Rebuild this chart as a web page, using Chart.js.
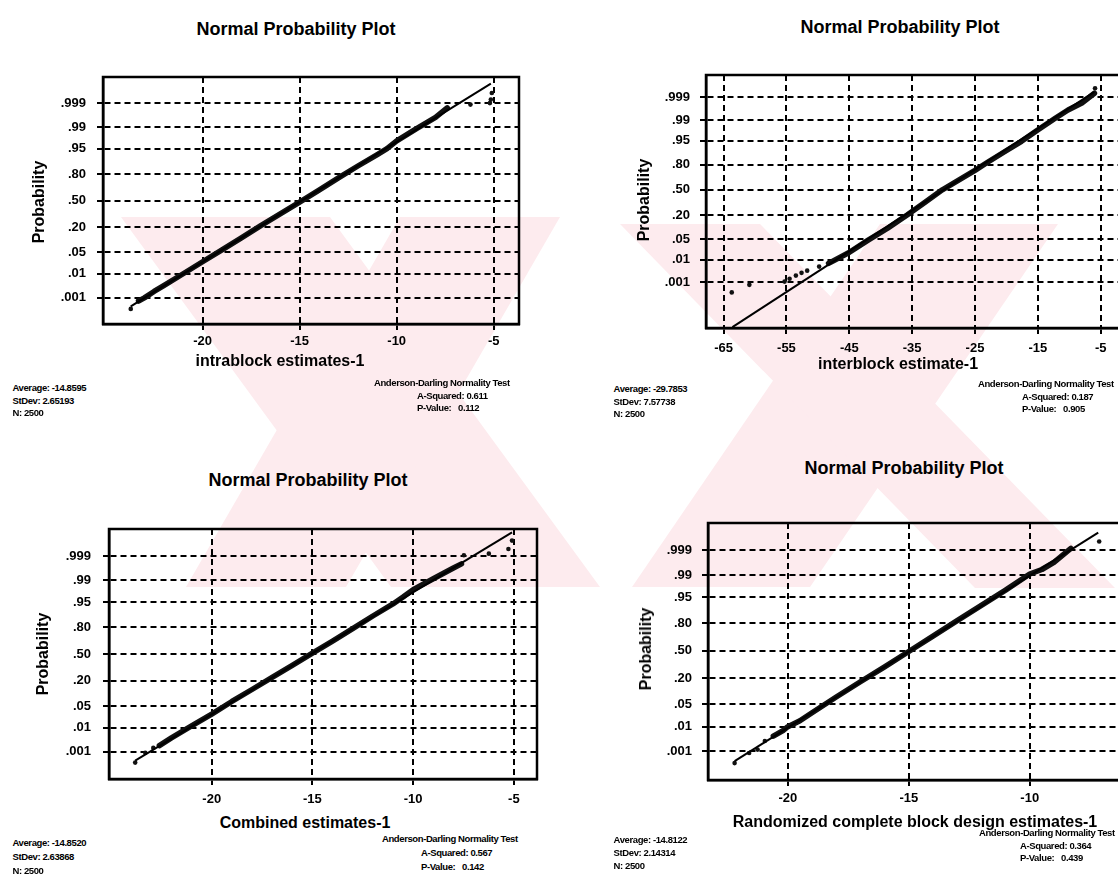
<!DOCTYPE html>
<html><head><meta charset="utf-8">
<script src="https://cdn.jsdelivr.net/npm/chart.js@4.4.1/dist/chart.umd.min.js"></script>
<style>
html,body{margin:0;padding:0;background:#fff;width:1118px;height:879px;overflow:hidden;position:relative;font-family:"Liberation Sans",Arial,sans-serif;color:#000}
.t{position:absolute;white-space:pre;font-weight:bold;line-height:1}
.ttl{font-size:18px;transform:translate(-50%,-50%)}
.xl{font-size:16px;transform:translate(-50%,-50%)}
.yl{font-size:16px;transform:translate(-50%,-50%) rotate(-90deg)}
.st{font-size:9.5px;letter-spacing:-0.4px;transform:translateY(-50%)}
#wm{position:absolute;left:0;top:0}
canvas{position:absolute}
</style></head><body>
<svg id="wm" width="1118" height="879" xmlns="http://www.w3.org/2000/svg">
<g fill="#fdebee">
<polygon points="121,217 330,217 600,587 391,587"/>
<polygon points="400,217 560,217 346,587 186,587"/>
<polygon points="880,224 1058,224 810,587 632,587"/>
<polygon points="620,224 760,224 1115,588 975,588"/>
</g>
</svg>
<script>
// ---------- axis tick data ----------
const probTickValues = [0.001, 0.01, 0.05, 0.20, 0.50, 0.80, 0.95, 0.99, 0.999];
const probTickLabels = ['.001', '.01', '.05', '.20', '.50', '.80', '.95', '.99', '.999'];

// ---------- panel 1: intrablock estimates ----------
const intraTicksX = [-20, -15, -10, -5];
const intraBandX = [-23.3, -23.0, -22.5, -22.0, -21.0, -20.0, -19.0, -18.0, -17.0, -16.0, -15.0, -14.0, -13.0, -12.0, -11.0, -10.5, -10.0, -9.0, -8.0, -7.4];
const intraBandP = [0.00069, 0.00097, 0.0019, 0.0034, 0.0099, 0.0256, 0.0582, 0.117, 0.212, 0.334, 0.480, 0.629, 0.764, 0.864, 0.928, 0.9505, 0.971, 0.9887, 0.9959, 0.9984];
const intraDotX = [-23.7, -6.2, -5.2, -5.15, -5.1];
const intraDotP = [0.00028, 0.99886, 0.99903, 0.99934, 0.99969];
const intraFitX = [-23.7, -5.15];
const intraFitP = [0.00038, 0.9999];

// ---------- panel 2: interblock estimate ----------
const interTicksX = [-65, -55, -45, -35, -25, -15, -5];
const interBandX = [-48.3, -45.1, -42.0, -38.9, -35.8, -33.0, -30.2, -28.4, -25.0, -23.0, -20.3, -17.6, -15.2, -12.3, -10.2, -8.0, -6.0];
const interBandP = [0.0071, 0.0179, 0.0465, 0.1, 0.2, 0.337, 0.5, 0.587, 0.742, 0.821, 0.898, 0.947, 0.9756, 0.9913, 0.9961, 0.9981, 0.99936];
const interDotX = [-63.7, -60.9, -55.3, -54.5, -53.5, -52.6, -51.7, -49.8, -5.9];
const interDotP = [0.00031, 0.00076, 0.0011, 0.0015, 0.0021, 0.0028, 0.0035, 0.0052, 0.99965];
const interFitX = [-63.6, -6.0];
const interFitP = [0.0000023, 0.99946];

// ---------- panel 3: combined estimates ----------
const combTicksX = [-20, -15, -10, -5];
const combBandX = [-22.6, -22.0, -21.0, -20.0, -19.0, -18.0, -17.0, -16.0, -15.0, -14.0, -13.0, -12.0, -11.0, -10.5, -10.0, -9.0, -8.0, -7.6];
const combBandP = [0.0019, 0.004, 0.0116, 0.0287, 0.0668, 0.131, 0.23, 0.359, 0.512, 0.659, 0.788, 0.885, 0.943, 0.964, 0.979, 0.9913, 0.9967, 0.9978];
const combDotX = [-23.8, -23.3, -22.9, -7.48, -6.24, -5.27, -5.09];
const combDotP = [0.0003, 0.0009, 0.0015, 0.99909, 0.99924, 0.99955, 0.99983];
const combFitX = [-23.8, -5.09];
const combFitP = [0.00038, 0.99994];

// ---------- panel 4: randomized complete block design ----------
const rcbdTicksX = [-20, -15, -10, -5];
const rcbdBandX = [-20.6, -20.2, -20.0, -19.5, -19.0, -18.0, -17.0, -16.0, -15.0, -14.0, -13.0, -12.0, -11.0, -10.0, -9.5, -9.0, -8.3];
const rcbdBandP = [0.0044, 0.0071, 0.0099, 0.0158, 0.0287, 0.0778, 0.171, 0.312, 0.492, 0.674, 0.824, 0.919, 0.969, 0.9909, 0.9938, 0.9967, 0.99918];
const rcbdDotX = [-22.2, -21.6, -21.25, -20.95, -7.13];
const rcbdDotP = [0.00028, 0.00084, 0.0012, 0.0028, 0.99961];
const rcbdFitX = [-22.2, -7.17];
const rcbdFitP = [0.00035, 0.99986];

// ---------- text ----------
const plotTitle = 'Normal Probability Plot';
const yAxisTitle = 'Probability';
const xAxisTitles = ['intrablock estimates-1', 'interblock estimate-1', 'Combined estimates-1', 'Randomized complete block design estimates-1'];
const avgVals = ['-14.8595', '-29.7853', '-14.8520', '-14.8122'];
const sdVals = ['2.65193', '7.57738', '2.63868', '2.14314'];
const nVals = ['2500', '2500', '2500', '2500'];
const testTitle = 'Anderson-Darling Normality Test';
const aSqVals = ['0.611', '0.187', '0.567', '0.364'];
const pVals = ['0.112', '0.905', '0.142', '0.439'];

// inverse standard normal CDF (normal probability scale)
function probit(p){
  const a=[-3.969683028665376e+01,2.209460984245205e+02,-2.759285104469687e+02,1.383577518672690e+02,-3.066479806614716e+01,2.506628277459239e+00];
  const b=[-5.447609879822406e+01,1.615858368580409e+02,-1.556989798598866e+02,6.680131188771972e+01,-1.328068155288572e+01];
  const c=[-7.784894002430293e-03,-3.223964580411365e-01,-2.400758277161838e+00,-2.549732539343734e+00,4.374664141464968e+00,2.938163982698783e+00];
  const d=[7.784695709041462e-03,3.224671290700398e-01,2.445134137142996e+00,3.754408661907416e+00];
  const pl=0.02425, ph=1-pl; let q,r;
  if(p<pl){q=Math.sqrt(-2*Math.log(p));return (((((c[0]*q+c[1])*q+c[2])*q+c[3])*q+c[4])*q+c[5])/((((d[0]*q+d[1])*q+d[2])*q+d[3])*q+1);}
  if(p<=ph){q=p-0.5;r=q*q;return (((((a[0]*r+a[1])*r+a[2])*r+a[3])*r+a[4])*r+a[5])*q/(((((b[0]*r+b[1])*r+b[2])*r+b[3])*r+b[4])*r+1);}
  q=Math.sqrt(-2*Math.log(1-p));return -(((((c[0]*q+c[1])*q+c[2])*q+c[3])*q+c[4])*q+c[5])/((((d[0]*q+d[1])*q+d[2])*q+d[3])*q+1);
}

Chart.defaults.font.family = '"Liberation Sans", Arial, sans-serif';
Chart.defaults.color = '#000';

const panels = [
  {box:{l:103,t:76,r:520,b:324}, xMin:-25.13, xMax:-3.70, zMin:-3.93, zMax:3.93, xTicks:intraTicksX,
   band:[intraBandX,intraBandP], dots:[intraDotX,intraDotP], fit:[intraFitX,intraFitP], yPad:11, xPad:4,
   title:[296,29], yl:[39,202], xl:[280,361], sL:[12.5,[388,400.5,413]], sR:[374,417,[383,395.5,408]]},
  {box:{l:706,t:73.5,r:1130,b:327}, xMin:-67.8, xMax:-0.5, zMin:-4.61, zMax:3.83, xTicks:interTicksX,
   band:[interBandX,interBandP], dots:[interDotX,interDotP], fit:[interFitX,interFitP], yPad:10, xPad:7,
   title:[900,27], yl:[644,200], xl:[898,364], sL:[613.6,[389,401.5,414]], sR:[978,1022,[384,396.5,409]]},
  {box:{l:109,t:527.5,r:537.5,b:778.3}, xMin:-25.1, xMax:-3.85, zMin:-3.95, zMax:3.95, xTicks:combTicksX,
   band:[combBandX,combBandP], dots:[combDotX,combDotP], fit:[combFitX,combFitP], yPad:12, xPad:7,
   title:[308,480], yl:[43,654], xl:[305,823], sL:[12.5,[843,857,870.5]], sR:[382,421,[839,853,866.5]]},
  {box:{l:708,t:521.7,r:1188,b:780}, xMin:-23.3, xMax:-3.5, zMin:-3.97, zMax:3.93, xTicks:rcbdTicksX,
   band:[rcbdBandX,rcbdBandP], dots:[rcbdDotX,rcbdDotP], fit:[rcbdFitX,rcbdFitP], yPad:10, xPad:5,
   title:[904,468], yl:[646,649], xl:[915,822], sL:[613.6,[840,853,866]], sR:[979,1020,[833,845.5,858]]}
];

const boxPlugin = {
  id:'boxBorder',
  afterDraw(chart){
    const a=chart.chartArea, ctx=chart.ctx;
    ctx.save(); ctx.strokeStyle='#000'; ctx.lineWidth=2.5;
    ctx.strokeRect(a.left,a.top,a.right-a.left,a.bottom-a.top);
    ctx.restore();
  }
};

function addText(cls, x, y, txt){
  const d=document.createElement('div');
  d.className='t '+cls; d.style.left=x+'px'; d.style.top=y+'px'; d.textContent=txt;
  document.body.appendChild(d);
}
function noPad(s){ s.paddingTop=0; s.paddingBottom=0; s.paddingLeft=0; s.paddingRight=0; }

panels.forEach((pc, k) => {
  const YW=80, XH=34, PT=3, PR=3;
  const L=pc.box.l-YW, T=pc.box.t-PT, W=Math.round(pc.box.r+PR-L), H=Math.round(pc.box.b+XH-T);
  const cv=document.createElement('canvas');
  cv.width=W; cv.height=H;
  cv.style.left=L+'px'; cv.style.top=T+'px'; cv.style.width=W+'px'; cv.style.height=H+'px';
  document.body.appendChild(cv);
  const toPts=(xs,ps)=>xs.map((x,i)=>({x:x,y:probit(ps[i])}));
  new Chart(cv,{
    type:'scatter',
    data:{datasets:[
      {data:toPts(pc.fit[0],pc.fit[1]), showLine:true, borderColor:'#000', borderWidth:2, pointRadius:0},
      {data:toPts(pc.band[0],pc.band[1]), showLine:true, borderColor:'#111', backgroundColor:'#111', borderWidth:5.5,
       pointRadius:2, pointBorderWidth:0, borderJoinStyle:'round', borderCapStyle:'round'},
      {data:toPts(pc.dots[0],pc.dots[1]), showLine:false, backgroundColor:'#111', pointRadius:2.3, pointBorderWidth:0}
    ]},
    options:{
      responsive:false, animation:false, devicePixelRatio:1,
      layout:{padding:{top:PT,right:PR,left:0,bottom:0}},
      plugins:{legend:{display:false}, tooltip:{enabled:false}, title:{display:false}},
      scales:{
        x:{type:'linear', position:'bottom', min:pc.xMin, max:pc.xMax,
           afterFit:s=>{s.height=XH; noPad(s);},
           afterBuildTicks:s=>{s.ticks=pc.xTicks.map(v=>({value:v}));},
           ticks:{autoSkip:false, maxRotation:0, padding:pc.xPad, font:{size:13, weight:'bold'}, color:'#000', callback:v=>String(v)},
           grid:{color:'#000', lineWidth:2, tickLength:6, tickWidth:2, tickColor:'#000', tickBorderDash:[]},
           border:{display:true, color:'#000', width:2.5, dash:[6,4]}},
        y:{type:'linear', position:'left', min:pc.zMin, max:pc.zMax,
           afterFit:s=>{s.width=YW; noPad(s);},
           afterBuildTicks:s=>{s.ticks=probTickValues.map(p=>({value:probit(p)}));},
           ticks:{autoSkip:false, padding:pc.yPad, font:{size:13, weight:'bold'}, color:'#000', callback:(v,i)=>probTickLabels[i]},
           grid:{color:'#000', lineWidth:2, tickLength:6, tickWidth:2, tickColor:'#000', tickBorderDash:[]},
           border:{display:true, color:'#000', width:2.5, dash:[6,4]}}
      }
    },
    plugins:[boxPlugin]
  });
  addText('ttl', pc.title[0], pc.title[1], plotTitle);
  addText('yl', pc.yl[0], pc.yl[1], yAxisTitle);
  addText('xl', pc.xl[0], pc.xl[1], xAxisTitles[k]);
  addText('st', pc.sL[0], pc.sL[1][0], 'Average: ' + avgVals[k]);
  addText('st', pc.sL[0], pc.sL[1][1], 'StDev: ' + sdVals[k]);
  addText('st', pc.sL[0], pc.sL[1][2], 'N: ' + nVals[k]);
  addText('st', pc.sR[0], pc.sR[2][0], testTitle);
  addText('st', pc.sR[1], pc.sR[2][1], 'A-Squared: ' + aSqVals[k]);
  addText('st', pc.sR[1], pc.sR[2][2], 'P-Value:   ' + pVals[k]);
});
</script>
</body></html>
